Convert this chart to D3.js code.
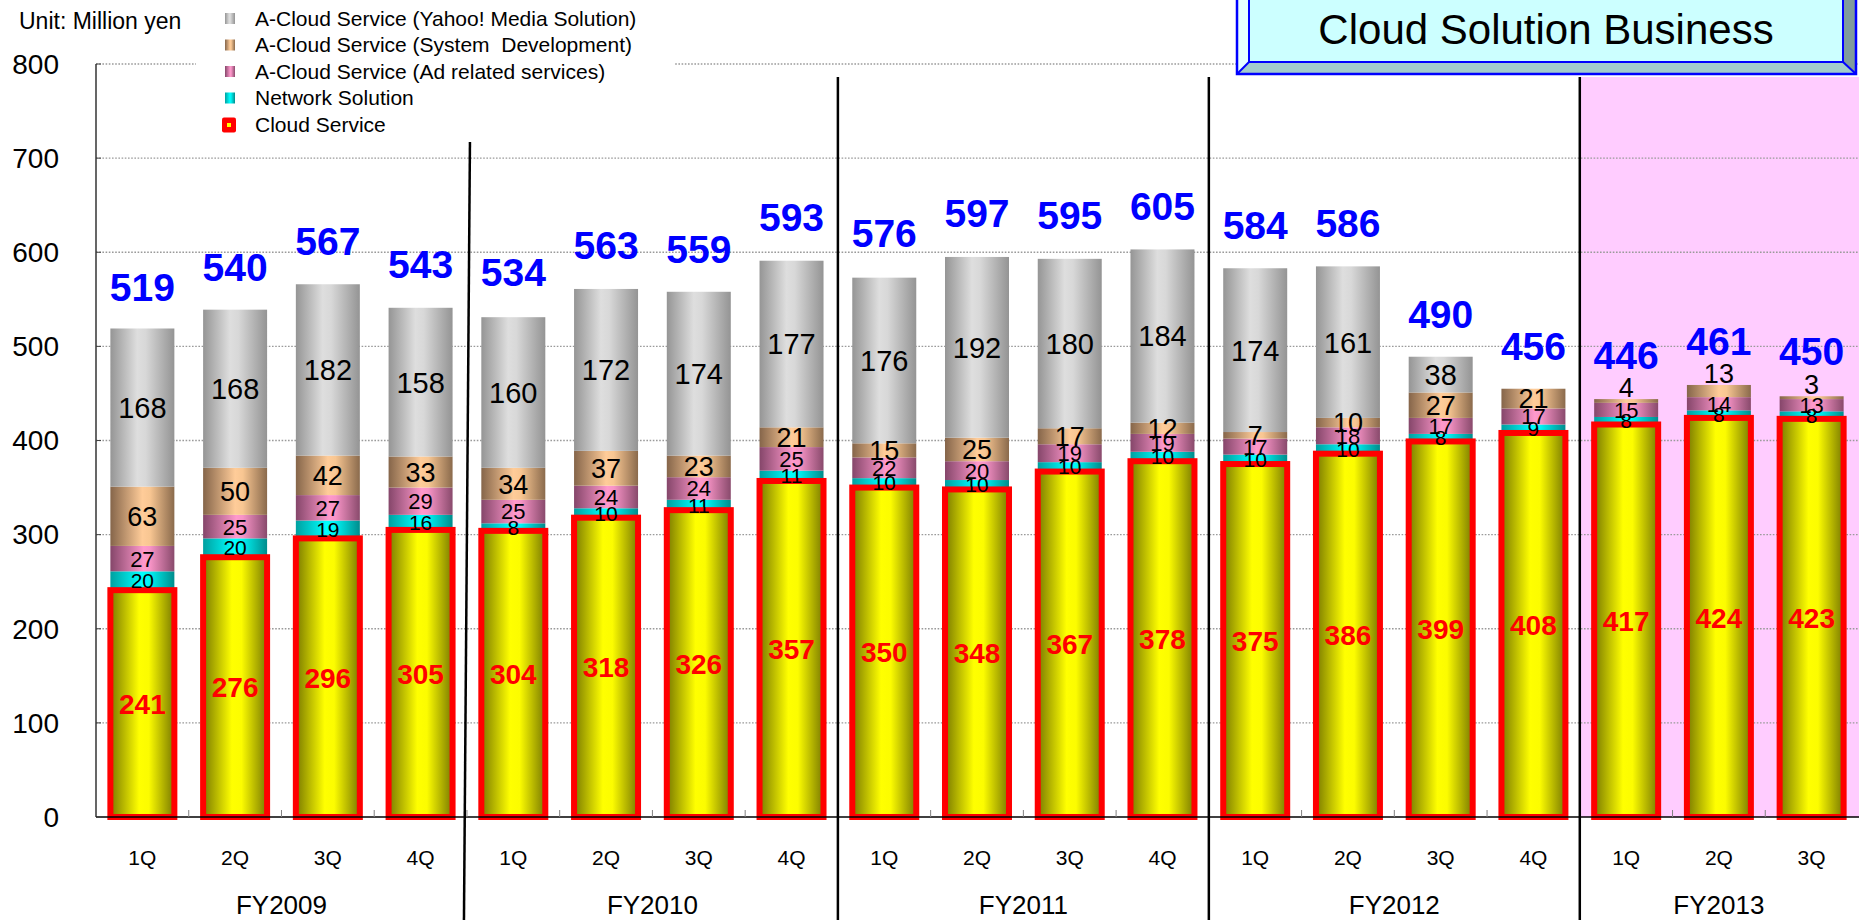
<!DOCTYPE html>
<html>
<head>
<meta charset="utf-8">
<script src="https://cdn.jsdelivr.net/npm/d3@7"></script>
<style>
html,body{margin:0;padding:0;background:#fff;}
svg{display:block;font-family:"Liberation Sans",Arial,sans-serif;}
</style>
</head>
<body>
<script>
// ---------------- DATA ----------------
const fiscalYears = ["FY2009","FY2010","FY2011","FY2012","FY2013"];
const quarterLabels = ["1Q","2Q","3Q","4Q","1Q","2Q","3Q","4Q","1Q","2Q","3Q","4Q","1Q","2Q","3Q","4Q","1Q","2Q","3Q"];
const yearOfBar = [0,0,0,0,1,1,1,1,2,2,2,2,3,3,3,3,4,4,4];

const cloudService    = [241,276,296,305,304,318,326,357,350,348,367,378,375,386,399,408,417,424,423];
const networkSolution = [20,20,19,16,8,10,11,11,10,10,10,10,10,10,8,9,8,8,8];
const adRelated       = [27,25,27,29,25,24,24,25,22,20,19,19,17,18,17,17,15,14,13];
const systemDev       = [63,50,42,33,34,37,23,21,15,25,17,12,7,10,27,21,4,13,3];
const yahooMedia      = [168,168,182,158,160,172,174,177,176,192,180,184,174,161,38,0,0,0,0];
const totals          = [519,540,567,543,534,563,559,593,576,597,595,605,584,586,490,456,446,461,450];

const yTicks = [0,100,200,300,400,500,600,700,800];
const unitLabel = "Unit: Million yen";
const titleText = "Cloud Solution Business";

const seriesKeys = ["cloud","network","ad","sysdev","yahoo"];
const seriesNames = {
  yahoo: "A-Cloud Service (Yahoo! Media Solution)",
  sysdev: "A-Cloud Service (System\u00a0 Development)",
  ad: "A-Cloud Service (Ad related services)",
  network: "Network Solution",
  cloud: "Cloud Service"
};
const legendOrder = ["yahoo","sysdev","ad","network","cloud"];

// ---------------- STYLE ----------------
const W = 1859, H = 920;
const gradStops = {
  yahoo:   [[0,"#959595"],[0.42,"#dedede"],[0.55,"#d8d8d8"],[1,"#949494"]],
  sysdev:  [[0,"#85654a"],[0.5,"#ffcc99"],[0.62,"#f8c692"],[1,"#8a6a4c"]],
  ad:      [[0,"#85466a"],[0.52,"#ff99cc"],[0.62,"#f794c6"],[1,"#894a6c"]],
  network: [[0,"#00a0a0"],[0.48,"#00ffff"],[0.6,"#00f6f6"],[1,"#008c8c"]],
  cloud:   [[0,"#7a7a00"],[0.45,"#ffff00"],[0.6,"#fcfc00"],[1,"#7a7a00"]]
};
const labelSize = {yahoo:29, sysdev:27, ad:22, network:21};

const rows = quarterLabels.map((q,i)=>({
  cloud: cloudService[i], network: networkSolution[i], ad: adRelated[i],
  sysdev: systemDev[i], yahoo: yahooMedia[i], total: totals[i]
}));

const svg = d3.select("body").append("svg").attr("width",W).attr("height",H);
const defs = svg.append("defs");
Object.entries(gradStops).forEach(([k,stops])=>{
  const g = defs.append("linearGradient").attr("id","g-"+k)
    .attr("x1","0").attr("x2","1").attr("y1","0").attr("y2","0");
  stops.forEach(s=>g.append("stop").attr("offset",s[0]).attr("stop-color",s[1]));
});

const x = d3.scaleBand().domain(d3.range(quarterLabels.length))
  .range([96,1858]).paddingInner(0.31).paddingOuter(0.155);
const y = d3.scaleLinear().domain([0,800]).range([817,64]);
const step = x.step();
const boundary = i => x(i) - step*x.paddingOuter();

svg.append("rect").attr("width",W).attr("height",H).attr("fill","#fff");

// FY2013 highlight
const lastStart = yearOfBar.indexOf(4);
svg.append("rect")
  .attr("x", boundary(lastStart)).attr("y", 77)
  .attr("width", W - boundary(lastStart)).attr("height", y(0)-77)
  .attr("fill","#ffccff");

// gridlines
svg.append("g").selectAll("line").data(yTicks.filter(d=>d>0)).join("line")
  .attr("x1",96).attr("x2",W).attr("y1",d=>y(d)).attr("y2",d=>y(d))
  .attr("stroke","#9a9a9a").attr("stroke-width",1.4).attr("stroke-dasharray","1.6,1.6");

// stacked bars
const stacked = d3.stack().keys(seriesKeys)(rows);
const gBars = svg.append("g");
stacked.forEach(layer=>{
  gBars.append("g").selectAll("rect").data(layer).join("rect")
    .attr("x",(d,i)=>x(i)).attr("width",x.bandwidth())
    .attr("y",d=>y(d[1])).attr("height",d=>Math.max(0,y(d[0])-y(d[1])))
    .attr("fill","url(#g-"+layer.key+")");
});
// red outline for Cloud Service
gBars.append("g").selectAll("rect").data(stacked[0]).join("rect")
  .attr("x",(d,i)=>x(i)).attr("width",x.bandwidth())
  .attr("y",d=>y(d[1])).attr("height",d=>y(d[0])-y(d[1]))
  .attr("fill","none").attr("stroke","#ff0000").attr("stroke-width",6);

// axes
svg.append("line").attr("x1",96).attr("x2",W).attr("y1",y(0)).attr("y2",y(0))
  .attr("stroke","#000").attr("stroke-width",1.5);
svg.append("line").attr("x1",96).attr("x2",96).attr("y1",y(800)).attr("y2",y(0))
  .attr("stroke","#000").attr("stroke-width",1.2);
svg.append("g").selectAll("line").data(d3.range(1,quarterLabels.length)).join("line")
  .attr("x1",i=>boundary(i)).attr("x2",i=>boundary(i))
  .attr("y1",y(0)).attr("y2",y(0)-7).attr("stroke","#808080").attr("stroke-width",1);
svg.append("g").selectAll("line").data(yTicks).join("line")
  .attr("x1",96).attr("x2",101).attr("y1",d=>y(d)).attr("y2",d=>y(d))
  .attr("stroke","#444").attr("stroke-width",1);

// y tick labels
svg.append("g").selectAll("text").data(yTicks).join("text")
  .attr("x",59).attr("y",d=>y(d)).attr("dy","0.35em")
  .attr("text-anchor","end").attr("font-size",28).attr("fill","#000")
  .text(d=>d);

// year dividers
const yearStarts = fiscalYears.map((f,k)=>yearOfBar.indexOf(k)).slice(1);
svg.append("g").selectAll("line").data(yearStarts).join("line")
  .attr("x1",(s,k)=>k===0 ? boundary(s)+3 : boundary(s))
  .attr("x2",(s,k)=>k===0 ? boundary(s)-3 : boundary(s))
  .attr("y1",(s,k)=>k===0 ? 142 : 77).attr("y2",H)
  .attr("stroke","#000").attr("stroke-width",2.5);

// x labels
svg.append("g").selectAll("text").data(quarterLabels).join("text")
  .attr("x",(d,i)=>x(i)+x.bandwidth()/2).attr("y",858).attr("dy","0.35em")
  .attr("text-anchor","middle").attr("font-size",21).text(d=>d);
svg.append("g").selectAll("text").data(fiscalYears).join("text")
  .attr("x",(d,k)=>{
    const idx = yearOfBar.map((v,i)=>v===k?i:-1).filter(i=>i>=0);
    return boundary(idx[0]) + idx.length*step/2;
  })
  .attr("y",905).attr("dy","0.35em")
  .attr("text-anchor","middle").attr("font-size",26).text(d=>d);

// segment labels
const gLab = svg.append("g");
stacked.forEach((layer,li)=>{
  const isCloud = layer.key==="cloud";
  gLab.append("g").selectAll("text").data(layer.filter(d=>d.data[layer.key]>0)).join("text")
    .attr("x",d=>x(layer.indexOf(d))+x.bandwidth()/2)
    .attr("y",d=>{
      const top = y(d[1]), bot = y(d[0]);
      // thin top-most segment: label sits just above the stack
      const isTop = seriesKeys.slice(li+1).every(k=>d.data[k]===0);
      if(!isCloud && isTop && bot-top < 14) return top-12;
      return (top+bot)/2;
    })
    .attr("dy","0.36em")
    .attr("text-anchor","middle")
    .attr("font-size",isCloud?28:labelSize[layer.key])
    .attr("font-weight",isCloud?"bold":"normal")
    .attr("fill",isCloud?"#ff0000":"#000")
    .text(d=>d.data[layer.key]);
});
// totals
svg.append("g").selectAll("text").data(rows).join("text")
  .attr("x",(d,i)=>x(i)+x.bandwidth()/2)
  .attr("y",d=>y(d.total)-42).attr("dy","0.36em")
  .attr("text-anchor","middle").attr("font-size",39).attr("font-weight","bold")
  .attr("fill","#0000ff").text(d=>d.total);

// legend
svg.append("rect").attr("x",196).attr("y",0).attr("width",478).attr("height",136).attr("fill","#fff");
const lg = svg.append("g").selectAll("g").data(legendOrder).join("g")
  .attr("transform",(d,i)=>`translate(0,${18.5+i*26.5})`);
lg.each(function(k){
  const g = d3.select(this);
  if(k==="cloud"){
    g.append("rect").attr("x",222).attr("y",-7).attr("width",14).attr("height",15)
      .attr("rx",2).attr("fill","#ff0000");
    g.append("rect").attr("x",227).attr("y",-1.5).attr("width",4).attr("height",4).attr("fill","#ffff00");
  } else {
    g.append("rect").attr("x",225).attr("y",-5.5).attr("width",10).attr("height",11)
      .attr("fill","url(#g-"+k+")");
  }
  g.append("text").attr("x",255).attr("y",0).attr("dy","0.35em")
    .attr("font-size",21).text(seriesNames[k]);
});
svg.append("text").attr("x",19).attr("y",21).attr("dy","0.35em")
  .attr("font-size",23).text(unitLabel);

// title box
const tb = svg.append("g");
const ox0=1237, ox1=1856, oy1=74, ix0=1249, ix1=1843, iy1=62;
tb.append("polygon").attr("points",`${ox0},0 ${ix0},0 ${ix0},${iy1} ${ox0},${oy1}`).attr("fill","#e6ffff");
tb.append("polygon").attr("points",`${ix1},0 ${ox1},0 ${ox1},${oy1} ${ix1},${iy1}`).attr("fill","#809c9c");
tb.append("polygon").attr("points",`${ix0},${iy1} ${ix1},${iy1} ${ox1},${oy1} ${ox0},${oy1}`).attr("fill","#a3cccc");
tb.append("rect").attr("x",ix0).attr("y",-2).attr("width",ix1-ix0).attr("height",iy1+2)
  .attr("fill","#ccffff").attr("stroke","#0000ff").attr("stroke-width",2);
tb.append("rect").attr("x",ox0).attr("y",-2).attr("width",ox1-ox0).attr("height",oy1+2)
  .attr("fill","none").attr("stroke","#0000ff").attr("stroke-width",2.5);
tb.append("line").attr("x1",ox0).attr("y1",oy1).attr("x2",ix0).attr("y2",iy1).attr("stroke","#0000ff").attr("stroke-width",2);
tb.append("line").attr("x1",ox1).attr("y1",oy1).attr("x2",ix1).attr("y2",iy1).attr("stroke","#0000ff").attr("stroke-width",2);
tb.append("text").attr("x",(ix0+ix1)/2).attr("y",29).attr("dy","0.35em")
  .attr("text-anchor","middle").attr("font-size",42).attr("fill","#000").text(titleText);
</script>
</body>
</html>
